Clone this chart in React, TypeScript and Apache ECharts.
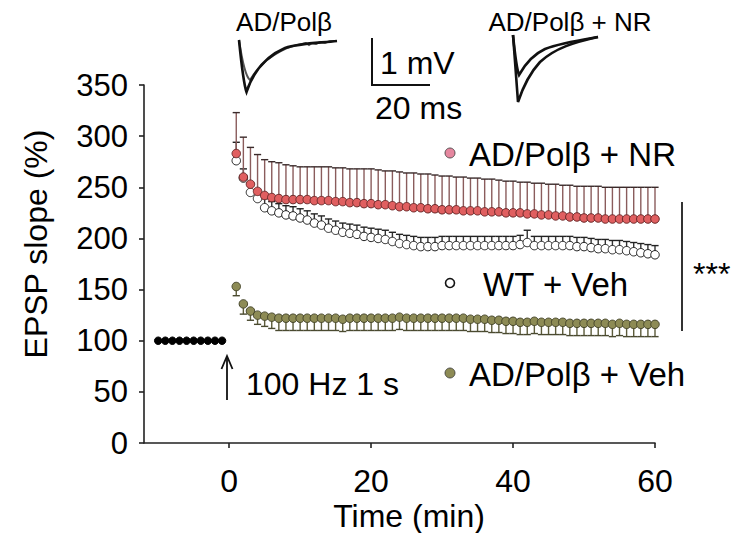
import React, { useEffect, useRef } from "react";
import * as echarts from "echarts";

const baselineTime = [-10, -9, -8, -7, -6, -5, -4, -3, -2, -1];
const baselineValue = [100, 100, 100, 100, 100, 100, 100, 100, 100, 100];

const postTime = [
  1, 2, 3, 4, 5, 6, 7, 8, 9, 10, 11, 12, 13, 14, 15, 16, 17, 18, 19, 20,
  21, 22, 23, 24, 25, 26, 27, 28, 29, 30, 31, 32, 33, 34, 35, 36, 37, 38, 39, 40,
  41, 42, 43, 44, 45, 46, 47, 48, 49, 50, 51, 52, 53, 54, 55, 56, 57, 58, 59, 60,
];

// AD/Polβ + NR
const nrMean = [
  283, 260, 253, 246, 242, 240, 239, 238, 238, 238,
  238, 237, 237, 237, 236, 236, 235, 235, 234, 234,
  233, 233, 232, 231, 231, 230, 230, 229, 229, 228,
  228, 228, 227, 227, 227, 226, 226, 226, 225, 225,
  225, 224, 224, 223, 223, 222, 222, 221, 221, 220,
  220, 220, 219, 219, 219, 219, 219, 219, 219, 219,
];
const nrSem = [
  40, 39, 36, 36, 35, 35, 35, 34, 33, 32,
  32, 33, 33, 33, 33, 33, 33, 33, 34, 34,
  34, 33, 34, 34, 33, 34, 33, 34, 33, 33,
  33, 32, 33, 32, 32, 32, 32, 31, 31, 31,
  30, 31, 30, 31, 30, 31, 30, 31, 30, 31,
  31, 31, 31, 31, 31, 31, 31, 31, 31, 31,
];

// WT + Veh
const wtMean = [
  276, 259, 245, 239, 230, 227, 225, 223, 222, 220,
  218, 215, 213, 210, 208, 206, 205, 204, 202, 201,
  200, 199, 197, 195, 194, 193, 192, 192, 192, 193,
  193, 193, 193, 193, 193, 193, 193, 193, 193, 193,
  194, 196, 193, 193, 193, 193, 193, 193, 192, 192,
  191, 190, 190, 189, 189, 188, 187, 186, 185, 184,
];
const wtSem = [
  18, 9, 9, 9, 9, 9, 9, 9, 9, 9,
  9, 9, 9, 9, 9, 9, 9, 9, 9, 9,
  9, 9, 9, 9, 9, 9, 9, 9, 9, 9,
  9, 9, 9, 9, 9, 9, 9, 9, 9, 9,
  9, 12, 9, 9, 9, 9, 9, 9, 9, 9,
  9, 9, 9, 9, 9, 9, 9, 9, 9, 9,
];

// AD/Polβ + Veh
const vehMean = [
  153, 136, 129, 125, 124, 123, 122, 122, 122, 122,
  122, 122, 122, 122, 122, 121, 122, 122, 122, 122,
  122, 122, 122, 123, 122, 122, 122, 122, 122, 122,
  122, 122, 122, 121, 121, 121, 120, 120, 119, 119,
  118, 118, 119, 118, 118, 118, 118, 117, 117, 117,
  117, 117, 117, 116, 117, 116, 116, 116, 116, 116,
];
const vehSem = [
  9, 10, 9, 9, 10, 11, 12, 12, 12, 12,
  12, 12, 12, 12, 12, 12, 12, 12, 12, 12,
  12, 12, 12, 12, 12, 12, 12, 12, 12, 12,
  12, 12, 12, 12, 12, 12, 12, 12, 12, 12,
  12, 12, 12, 12, 12, 12, 12, 12, 12, 12,
  12, 12, 12, 12, 12, 12, 12, 12, 12, 12,
];

const xTicks = [0, 20, 40, 60];
const yTicks = [0, 50, 100, 150, 200, 250, 300, 350];

const FONT = "'Liberation Sans', Arial, sans-serif";

const traceLeftDeep =
  "M239,40 C241,60 244,85 246.5,92 C252,75 262,58 285,48 C300,43 320,43 337,41";
const traceLeftShallow =
  "M239,40 C242,60 246,77 250,80 C255,72 264,58 287,48 C297,45 303,44 306,43 L309,45 L312,43 L316,44 L320,42 L325,43 L330,41 L337,41";
const traceRightDeep =
  "M513,35 C515,60 517,90 518,102 C522,90 528,75 540,62 C555,48 575,42 598,37";
const traceRightShallow =
  "M513,35 C515,55 517,70 519,75 C524,66 532,55 545,49 C560,43 580,40 598,37";

let registered = false;
function registerShapes() {
  if (registered) return;
  registered = true;
  echarts.graphic.registerShape("traceLD", echarts.graphic.extendPath(traceLeftDeep, {}));
  echarts.graphic.registerShape("traceLS", echarts.graphic.extendPath(traceLeftShallow, {}));
  echarts.graphic.registerShape("traceRD", echarts.graphic.extendPath(traceRightDeep, {}));
  echarts.graphic.registerShape("traceRS", echarts.graphic.extendPath(traceRightShallow, {}));
}

function errorSeries(
  name: string,
  mean: number[],
  sem: number[],
  dir: number,
  stemColor: string,
  capColor: string
) {
  const data = postTime.map((t, i) => [t, mean[i], sem[i]]);
  return {
    type: "custom",
    name,
    data,
    silent: true,
    clip: false,
    renderItem: (params: any, api: any) => {
      const x = api.value(0);
      const y = api.value(1);
      const e = api.value(2);
      const p0 = api.coord([x, y]);
      const p1 = api.coord([x, y + dir * e]);
      return {
        type: "group",
        children: [
          {
            type: "line",
            shape: { x1: p0[0], y1: p0[1], x2: p1[0], y2: p1[1] },
            style: { stroke: stemColor, lineWidth: 1.4 },
          },
          {
            type: "line",
            shape: { x1: p1[0] - 3.6, y1: p1[1], x2: p1[0] + 3.6, y2: p1[1] },
            style: { stroke: capColor, lineWidth: 1.4 },
          },
        ],
      };
    },
  };
}

function scatterSeries(name: string, times: number[], vals: number[], fill: string, border: string, size: number) {
  return {
    type: "scatter",
    name,
    data: times.map((t, i) => [t, vals[i]]),
    symbol: "circle",
    symbolSize: size,
    itemStyle: { color: fill, borderColor: border, borderWidth: 1, opacity: 1 },
    silent: true,
  };
}

function txt(text: string, x: number, y: number, size: number, align = "left", extra: any = {}) {
  return {
    type: "text",
    x,
    y,
    silent: true,
    ...extra,
    style: {
      text,
      font: `${size}px ${FONT}`,
      fill: "#000",
      textAlign: align,
      textVerticalAlign: "middle",
    },
  };
}

export default function App() {
  const ref = useRef<HTMLDivElement>(null);

  useEffect(() => {
    document.body.style.margin = "0";
    registerShapes();
    const chart = echarts.init(ref.current!, null, { renderer: "svg" });
    const traceStyle = { fill: null, stroke: "#111", lineWidth: 2.6 };
    const option: any = {
      animation: false,
      backgroundColor: "#fff",
      grid: {
        left: 144,
        right: 84,
        top: 85,
        bottom: 90,
        containLabel: false,
        outerBoundsMode: "none",
      },
      xAxis: {
        type: "value",
        min: -12,
        max: 60,
        splitLine: { show: false },
        axisLine: { show: true, onZero: false, lineStyle: { color: "#222", width: 1.6 } },
        axisTick: {
          show: true,
          length: 5,
          customValues: xTicks,
          lineStyle: { color: "#222", width: 1.6 },
        },
        axisLabel: {
          customValues: xTicks,
          fontSize: 32,
          fontFamily: FONT,
          color: "#000",
          margin: 22,
        },
      },
      yAxis: {
        type: "value",
        min: 0,
        max: 350,
        interval: 50,
        splitLine: { show: false },
        axisLine: { show: true, onZero: false, lineStyle: { color: "#222", width: 1.6 } },
        axisTick: { show: true, length: 5, lineStyle: { color: "#222", width: 1.6 } },
        axisLabel: {
          fontSize: 31,
          fontFamily: FONT,
          color: "#000",
          margin: 16,
          formatter: (v: number) => (yTicks.includes(v) ? String(v) : ""),
        },
      },
      series: [
        errorSeries("vehErr", vehMean, vehSem, -1, "#5c5b3a", "#4a4a30"),
        scatterSeries("AD/Polβ + Veh", postTime, vehMean, "#8d8b55", "#45452a", 8.5),
        errorSeries("wtErr", wtMean, wtSem, 1, "#333", "#222"),
        scatterSeries("WT + Veh", postTime, wtMean, "#ffffff", "#222", 8.5),
        errorSeries("nrErr", nrMean, nrSem, 1, "#8a5c5c", "#3a2a2a"),
        scatterSeries("AD/Polβ + NR", postTime, nrMean, "#e05f60", "#6a2a2a", 8.5),
        scatterSeries("baseline", baselineTime, baselineValue, "#000", "#000", 7.5),
      ],
      graphic: [
        txt("EPSP slope (%)", 36, 244, 32, "center", { rotation: Math.PI / 2 }),
        txt("Time (min)", 409, 516, 32, "center"),
        // legend-like labels
        { type: "circle", shape: { cx: 450, cy: 153, r: 5 }, style: { fill: "#e5879f", stroke: "#333", lineWidth: 0.8 }, silent: true },
        txt("AD/Polβ + NR", 469, 154, 33),
        { type: "circle", shape: { cx: 450, cy: 283, r: 4.5 }, style: { fill: "#fff", stroke: "#111", lineWidth: 1.6 }, silent: true },
        txt("WT + Veh", 483, 284, 33),
        { type: "circle", shape: { cx: 450, cy: 373, r: 5 }, style: { fill: "#8d8b55", stroke: "#333", lineWidth: 0.8 }, silent: true },
        txt("AD/Polβ + Veh", 469, 374, 33),
        // stimulus arrow
        { type: "line", shape: { x1: 227, y1: 400, x2: 227, y2: 357 }, style: { stroke: "#111", lineWidth: 1.8 }, silent: true },
        { type: "polyline", shape: { points: [[221.5, 369], [227, 356], [232.5, 369]] }, style: { stroke: "#111", lineWidth: 1.8, fill: null }, silent: true },
        txt("100 Hz 1 s", 246, 384, 32),
        // significance
        { type: "line", shape: { x1: 682, y1: 202, x2: 682, y2: 331 }, style: { stroke: "#333", lineWidth: 2 }, silent: true },
        txt("***", 693, 274, 32),
        // traces
        txt("AD/Polβ", 284, 22, 26, "center"),
        txt("AD/Polβ + NR", 570, 22, 26, "center"),
        { type: "traceLS", x: 0, y: 0, style: { ...traceStyle, stroke: "#555", lineWidth: 2 }, silent: true },
        { type: "traceLD", x: 0, y: 0, style: traceStyle, silent: true },
        { type: "traceRS", x: 0, y: 0, style: traceStyle, silent: true },
        { type: "traceRD", x: 0, y: 0, style: traceStyle, silent: true },
        // scale bar
        { type: "polyline", shape: { points: [[372, 38], [372, 85], [430, 85]] }, style: { stroke: "#111", lineWidth: 2, fill: null }, silent: true },
        txt("1 mV", 380, 63, 32),
        txt("20 ms", 375, 108, 32),
      ],
    };
    chart.setOption(option);
    return () => chart.dispose();
  }, []);

  return <div ref={ref} style={{ width: 739, height: 533 }} />;
}
